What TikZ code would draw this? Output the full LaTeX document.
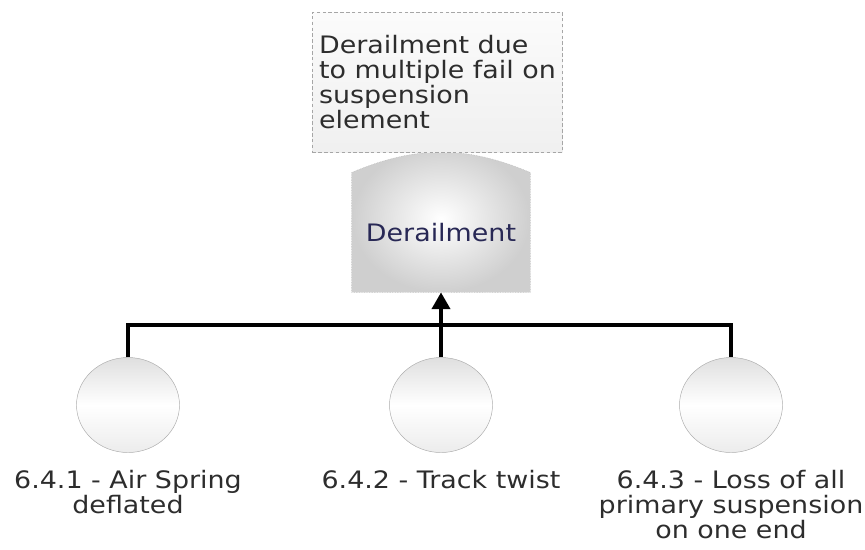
\documentclass[tikz,border=0pt]{standalone}
\usepackage{fontspec}
\setmainfont{DejaVu Sans}[FakeStretch=1.12]
\usepackage{xcolor}
\usetikzlibrary{shapes.geometric,arrows.meta,backgrounds}
\definecolor{gatetext}{RGB}{40,40,85}
\definecolor{boxtext}{RGB}{45,45,45}

\begin{document}
\begin{tikzpicture}[x=0.03cm,y=-0.03cm,thick,
  font=\fontsize{20.5}{21.3}\selectfont,
  note/.style={rectangle,draw=gray!70,densely dashed,thin,top color=gray!3,bottom color=gray!12,minimum width=7.47cm,minimum height=4.2cm,align=left,text=boxtext,inner xsep=0.2cm},
  gatebox/.style={rectangle,minimum width=5.34cm,minimum height=3.57cm,text=gatetext,inner sep=0},
  event/.style={ellipse,draw=gray!65,thin,top color=gray!25,bottom color=gray!15,middle color=white,minimum width=3.09cm,minimum height=2.85cm,inner sep=0},
  desc/.style={anchor=north,align=center,text=boxtext,inner sep=0},
  link/.style={line width=2.6pt,black},
  up/.style={link,-{Triangle[length=0.5cm,width=0.55cm]}}]

    \useasboundingbox (0,0) rectangle (865,549);

    % The tree
    \node [note] at (437.5,82) (top) {Derailment due\\to multiple fail on\\suspension\\element};
    \node [gatebox] at (441,232.5) (gate) {Derailment};
    \node [event] at (128,405) (ev1) {};
    \node [event] at (441,405) (ev2) {};
    \node [event] at (731,405) (ev3) {};
    \node [desc] at (128,470) (lab1) {6.4.1 - Air Spring\\deflated};
    \node [desc] at (441,470) (lab2) {6.4.2 - Track twist};
    \node [desc] at (731,470) (lab3) {6.4.3 - Loss of all\\primary suspension\\on one end};
    \coordinate (bar) at (441,325);

    % Gate body
    \begin{scope}[on background layer]
    \path[draw=gray!60,densely dotted,thin,inner color=white,outer color=gray!38]
    (gate.south west) -- (gate.north west) to[bend left=23] (gate.north east) -- (gate.south east) -- cycle;
    \end{scope}

    % Tree branches
    \draw[link] (ev1.north) |- (bar) -| (ev3.north);
    \draw[link] (ev2.north) -- (bar);
    \draw[up] (bar) -- (gate.south);
\end{tikzpicture}
\end{document}
